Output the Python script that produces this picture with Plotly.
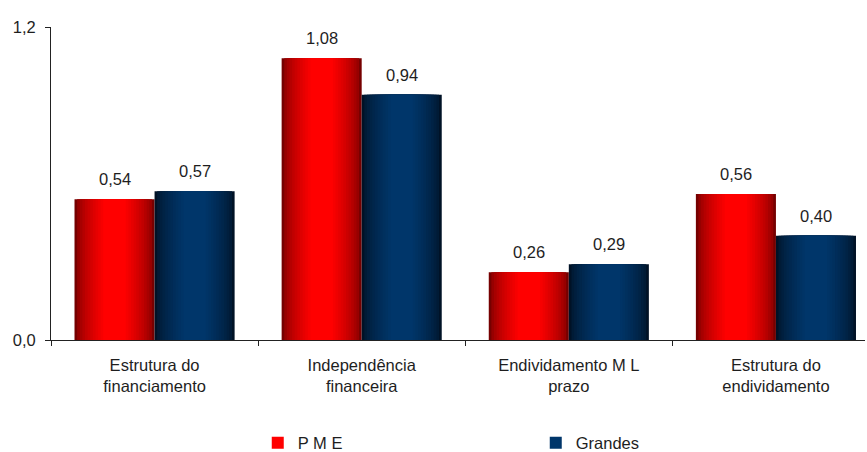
import plotly.graph_objects as go

categories = ["Estrutura do<br>financiamento", "Independência<br>financeira",
              "Endividamento M L<br>prazo", "Estrutura do<br>endividamento"]
pme = [0.54, 1.08, 0.26, 0.56]
grandes = [0.57, 0.94, 0.29, 0.40]
series_names = ["P M E", "Grandes"]
y_ticks = [0.0, 1.2]
y_tick_labels = ["0,0", "1,2"]

font_family = "Liberation Sans, Arial, sans-serif"
txt = "#1e1e1e"
fs = 16.5

bar_w = 0.3865          # width of one bar in category units
n_layers = 12           # layered shading to imitate the horizontal gradient
series = [
    (series_names[0], pme, -1, (118, 0, 0), (255, 0, 0)),
    (series_names[1], grandes, 1, (0, 18, 38), (0, 54, 106)),
]

fig = go.Figure()
for name, vals, side, dark, bright in series:
    center = side * bar_w / 2
    for k in range(n_layers):
        t = k / (n_layers - 1)
        f = t ** 0.6
        col = "rgb({},{},{})".format(*[round(d + (b - d) * f) for d, b in zip(dark, bright)])
        w = bar_w * (1 - 0.72 * t)
        last = k == n_layers - 1
        fig.add_trace(go.Bar(
            x=categories, y=vals, name=name, width=w, offset=center - w / 2,
            marker=dict(color=col, line=dict(width=0)),
            showlegend=last, hoverinfo="x+y+name" if last else "skip",
        ))

for vals, shift in ((pme, -40), (grandes, 40)):
    for c, v in zip(categories, vals):
        fig.add_annotation(x=c, y=v, xshift=shift, yshift=9, yanchor="bottom",
                           text=f"{v:.2f}".replace(".", ","), showarrow=False,
                           font=dict(size=fs, color=txt, family=font_family))

fig.update_layout(
    width=867, height=452,
    margin=dict(l=51, r=2, t=27, b=112, autoexpand=False),
    paper_bgcolor="white", plot_bgcolor="white",
    barmode="overlay",
    font=dict(family=font_family, size=fs, color=txt),
    showlegend=True,
    legend=dict(orientation="h", x=0.254, xanchor="left", yref="container",
                y=0.02, yanchor="middle",
                entrywidth=233, entrywidthmode="pixels", font=dict(size=fs, color=txt),
                itemwidth=30, traceorder="normal"),
    xaxis=dict(showline=True, linecolor="#222", linewidth=1, ticks="outside",
               tickson="boundaries", ticklen=5, tickcolor="#222", showgrid=False,
               range=[-0.5, 3.43], automargin=False, ticklabelstandoff=10,
               tickfont=dict(size=fs, color=txt)),
    yaxis=dict(range=[0, 1.2], tickvals=y_ticks, ticktext=y_tick_labels,
               showline=True, linecolor="#222", linewidth=1, ticks="outside",
               ticklen=5, tickcolor="#222", showgrid=False, zeroline=False,
               automargin=False, ticklabelstandoff=6,
               tickfont=dict(size=fs, color=txt)),
)

fig.write_html("out.html")
